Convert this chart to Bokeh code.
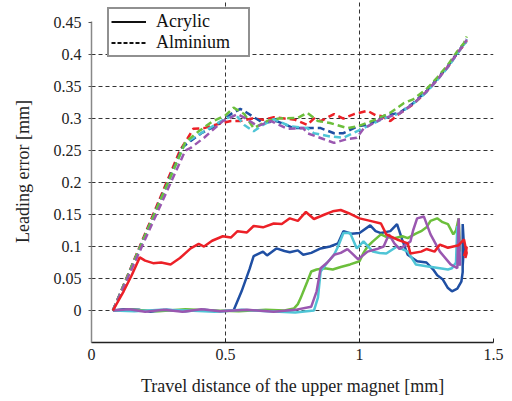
from bokeh.plotting import figure
from bokeh.models import Range1d, FixedTicker, Legend, LegendItem
from bokeh.embed import file_html
from bokeh.resources import INLINE

# ---------------- data ----------------
x_ticks = [0, 0.5, 1.0, 1.5]
y_ticks = [0, 0.05, 0.1, 0.15, 0.2, 0.25, 0.3, 0.35, 0.4, 0.45]
y_tick_labels = ["0", "0.05", "0.1", "0.15", "0.2", "0.25", "0.3", "0.35", "0.4", "0.45"]

# Acrylic (solid)
red_a_x = [0.08, 0.12, 0.15, 0.18, 0.2, 0.23, 0.26, 0.295, 0.33, 0.37, 0.4, 0.42, 0.45, 0.49, 0.52, 0.545, 0.58,
           0.605, 0.64, 0.68, 0.71, 0.74, 0.77, 0.8, 0.83, 0.87, 0.9, 0.93, 0.96, 1.0, 1.04, 1.08, 1.1, 1.14, 1.18,
           1.19, 1.23, 1.25, 1.28, 1.3, 1.33, 1.35, 1.37, 1.39, 1.40, 1.395, 1.40, 1.39]
red_a_y = [0, 0.03, 0.055, 0.083, 0.078, 0.074, 0.075, 0.072, 0.082, 0.097, 0.104, 0.1, 0.109, 0.116, 0.114,
           0.124, 0.122, 0.132, 0.13, 0.136, 0.135, 0.144, 0.14, 0.154, 0.143, 0.15, 0.155, 0.157, 0.152, 0.144,
           0.14, 0.136, 0.119, 0.111, 0.105, 0.089, 0.092, 0.096, 0.092, 0.103, 0.098, 0.1, 0.102, 0.111, 0.09,
           0.082, 0.1, 0.085]

blue_a_x = [0.08, 0.12, 0.18, 0.22, 0.28, 0.35, 0.42, 0.48, 0.53, 0.56, 0.59, 0.605, 0.64, 0.655, 0.69, 0.72,
            0.74, 0.77, 0.79, 0.82, 0.855, 0.89, 0.92, 0.94, 0.97, 1.0, 1.04, 1.06, 1.08, 1.115, 1.14, 1.16, 1.18,
            1.215, 1.25, 1.275, 1.29, 1.31, 1.33, 1.345, 1.365, 1.38, 1.385, 1.385, 1.39, 1.385]
blue_a_y = [0, 0.002, 0.001, -0.002, 0.001, -0.001, 0.001, -0.001, 0.0, 0.03, 0.065, 0.085, 0.092, 0.086, 0.097,
            0.093, 0.091, 0.094, 0.087, 0.09, 0.097, 0.1, 0.105, 0.124, 0.12, 0.121, 0.133, 0.124, 0.121, 0.124,
            0.135, 0.11, 0.087, 0.077, 0.075, 0.064, 0.055, 0.049, 0.035, 0.03, 0.034, 0.045, 0.06, 0.135, 0.1,
            0.07]

green_a_x = [0.08, 0.15, 0.25, 0.35, 0.45, 0.55, 0.65, 0.72, 0.755, 0.77, 0.78, 0.805, 0.82, 0.84, 0.87, 0.9,
             0.93, 0.965, 1.0, 1.015, 1.03, 1.05, 1.08, 1.1, 1.13, 1.16, 1.18, 1.21, 1.23, 1.25, 1.265, 1.29,
             1.31, 1.33, 1.35, 1.36, 1.37, 1.375]
green_a_y = [0, 0.001, -0.001, 0.002, 0.0, -0.001, 0.001, 0.0, 0.003, 0.01, 0.019, 0.045, 0.061, 0.064, 0.066,
             0.064, 0.068, 0.072, 0.077, 0.09, 0.1, 0.108, 0.119, 0.115, 0.113, 0.116, 0.113, 0.12, 0.124, 0.13,
             0.14, 0.144, 0.138, 0.135, 0.119, 0.125, 0.144, 0.092]

cyan_a_x = [0.08, 0.16, 0.26, 0.36, 0.46, 0.56, 0.66, 0.76, 0.83, 0.845, 0.855, 0.88, 0.905, 0.92, 0.94, 0.965,
            0.99, 1.015, 1.05, 1.075, 1.1, 1.14, 1.18, 1.21, 1.25, 1.3, 1.33, 1.345, 1.36, 1.365, 1.37]
cyan_a_y = [0, -0.001, 0.001, 0.0, -0.002, 0.001, -0.001, -0.003, 0.0, 0.02, 0.061, 0.075, 0.087, 0.1, 0.121,
            0.121, 0.097, 0.108, 0.092, 0.09, 0.089, 0.1, 0.092, 0.072, 0.069, 0.066, 0.064, 0.066, 0.075, 0.132,
            0.07]

purple_a_x = [0.08, 0.14, 0.2, 0.27, 0.34, 0.41, 0.48, 0.58, 0.68, 0.76, 0.82, 0.84, 0.855, 0.88, 0.905, 0.93,
              0.955, 0.975, 0.995, 1.03, 1.065, 1.09, 1.11, 1.13, 1.15, 1.19, 1.2, 1.215, 1.24, 1.265, 1.3, 1.34,
              1.365, 1.37, 1.375]
purple_a_y = [0, 0.002, -0.002, 0.001, -0.002, 0.002, -0.001, 0.001, -0.002, 0.001, 0.006, 0.03, 0.066, 0.075,
              0.087, 0.09, 0.096, 0.088, 0.08, 0.092, 0.096, 0.1, 0.119, 0.105, 0.096, 0.108, 0.125, 0.144, 0.147,
              0.119, 0.092, 0.072, 0.066, 0.144, 0.07]

# Alminium (dashed)
tail_x = [1.15, 1.2, 1.25, 1.29, 1.33, 1.365, 1.39, 1.40]

red_b_x = [0.08, 0.33, 0.36, 0.38, 0.42, 0.47, 0.52, 0.555, 0.6, 0.64, 0.68, 0.72, 0.76, 0.805, 0.83, 0.855,
           0.905, 0.94, 0.98, 1.03, 1.06, 1.08, 1.115] + tail_x
red_b_y = [0, 0.25, 0.27, 0.284, 0.285, 0.291, 0.296, 0.296, 0.3, 0.298, 0.302, 0.3, 0.298, 0.29, 0.3, 0.296,
           0.307, 0.3, 0.307, 0.312, 0.305, 0.304, 0.296, 0.308, 0.322, 0.342, 0.361, 0.381, 0.402, 0.415, 0.422]

blue_b_x = [0.08, 0.34, 0.37, 0.41, 0.47, 0.52, 0.555, 0.58, 0.64, 0.69, 0.755, 0.805, 0.855, 0.905, 0.94,
            0.995, 1.04, 1.09] + tail_x
blue_b_y = [0, 0.255, 0.265, 0.277, 0.29, 0.307, 0.315, 0.309, 0.293, 0.296, 0.285, 0.285, 0.285, 0.277,
            0.277, 0.288, 0.291, 0.304, 0.309, 0.324, 0.343, 0.362, 0.382, 0.403, 0.417, 0.424]

green_b_x = [0.08, 0.35, 0.4, 0.45, 0.5, 0.53, 0.57, 0.605, 0.655, 0.7, 0.77, 0.805, 0.845, 0.89, 0.955, 0.995,
             1.04, 1.09, 1.115] + [1.165, 1.2, 1.25, 1.29, 1.33, 1.365, 1.39, 1.40]
green_b_y = [0, 0.263, 0.28, 0.295, 0.305, 0.317, 0.307, 0.285, 0.296, 0.3, 0.301, 0.309, 0.296, 0.293, 0.285,
             0.288, 0.295, 0.304, 0.309, 0.324, 0.33, 0.346, 0.364, 0.384, 0.405, 0.418, 0.428]

cyan_b_x = [0.08, 0.35, 0.42, 0.5, 0.54, 0.57, 0.605, 0.64, 0.68, 0.74, 0.805, 0.83, 0.89, 0.94, 0.99, 1.04,
            1.09] + tail_x
cyan_b_y = [0, 0.262, 0.28, 0.3, 0.305, 0.29, 0.28, 0.29, 0.299, 0.288, 0.285, 0.277, 0.272, 0.27, 0.28, 0.29,
            0.3, 0.308, 0.323, 0.341, 0.36, 0.38, 0.401, 0.416, 0.42]

purple_b_x = [0.08, 0.35, 0.37, 0.42, 0.49, 0.545, 0.58, 0.62, 0.67, 0.73, 0.79, 0.805, 0.865, 0.905, 0.955,
              0.99, 1.015, 1.08] + tail_x
purple_b_y = [0, 0.25, 0.254, 0.27, 0.296, 0.307, 0.299, 0.288, 0.296, 0.284, 0.285, 0.277, 0.268, 0.262,
              0.268, 0.27, 0.284, 0.299, 0.308, 0.323, 0.342, 0.36, 0.381, 0.402, 0.416, 0.423]

legend_labels = ["Acrylic", "Alminium"]

colors = {"red": "#ec2027", "blue": "#1f4fa3", "green": "#6cbf3c", "cyan": "#4fc5d6", "purple": "#9a57b0"}

acrylic = [("blue", blue_a_x, blue_a_y), ("green", green_a_x, green_a_y), ("cyan", cyan_a_x, cyan_a_y),
           ("purple", purple_a_x, purple_a_y), ("red", red_a_x, red_a_y)]
alminium = [("red", red_b_x, red_b_y), ("blue", blue_b_x, blue_b_y), ("cyan", cyan_b_x, cyan_b_y),
            ("green", green_b_x, green_b_y), ("purple", purple_b_x, purple_b_y)]

FONT = "Liberation Serif"

p = figure(frame_width=402, frame_height=342, output_backend="svg", toolbar_location=None,
           x_range=Range1d(0, 1.5), y_range=Range1d(-0.05, 0.4844),
           min_border_left=91, min_border_top=0, min_border_right=14, min_border_bottom=55)
p.outline_line_color = None
p.background_fill_color = "white"

# grid
p.xgrid.ticker = FixedTicker(ticks=[0.5, 1.0])
p.ygrid.ticker = FixedTicker(ticks=y_ticks[:-1])
p.xgrid.bounds = (-0.05, 0.456)
for g in (p.xgrid, p.ygrid):
    g.grid_line_color = "#333333"
    g.grid_line_dash = "4 3"
    g.grid_line_width = 1

# axes
p.xaxis.ticker = FixedTicker(ticks=x_ticks)
p.xaxis.major_label_overrides = {0: "0", 0.5: "0.5", 1.0: "1", 1.5: "1.5"}
p.yaxis.ticker = FixedTicker(ticks=y_ticks)
p.yaxis.bounds = (-0.05, 0.452)
p.yaxis.major_label_overrides = {t: l for t, l in zip(y_ticks, y_tick_labels)}
p.xaxis.axis_label = "Travel distance of the upper magnet [mm]"
p.yaxis.axis_label = "Leading error [mm]"
for ax in (p.xaxis, p.yaxis):
    ax.major_label_text_font = FONT
    ax.major_label_text_font_size = "16px"
    ax.major_label_text_color = "#222222"
    ax.axis_label_text_font = FONT
    ax.axis_label_text_font_size = "18px"
    ax.axis_label_text_font_style = "normal"
    ax.axis_label_text_color = "#222222"
    ax.minor_tick_line_color = None
p.xaxis.axis_line_color = "#222222"
p.xaxis.axis_line_width = 1.5
p.xaxis.major_tick_line_color = "#222222"
p.xaxis.major_tick_in = 4
p.xaxis.major_tick_out = 0
p.xaxis.major_label_standoff = 6
p.xaxis.axis_label_standoff = 13
p.yaxis.axis_line_color = "#888888"
p.yaxis.axis_line_width = 1.5
p.yaxis.major_tick_line_color = "#555555"
p.yaxis.major_tick_in = 0
p.yaxis.major_tick_out = 3
p.yaxis.major_label_standoff = 7
p.yaxis.axis_label_standoff = 18

# lines
for name, xs, ys in alminium:
    p.line(xs, ys, line_color=colors[name], line_width=2.5, line_dash="7 4")
for name, xs, ys in acrylic:
    p.line(xs, ys, line_color=colors[name], line_width=2.5)

# legend proxies (kept outside the visible range)
r_solid = p.line(x=[-1.0, -0.9], y=[-1.0, -1.0], line_color="#111111", line_width=2)
r_dash = p.line(x=[-1.0, -0.9], y=[-1.0, -1.0], line_color="#111111", line_width=2, line_dash="4 2")
legend = Legend(items=[LegendItem(label=legend_labels[0], renderers=[r_solid]),
                       LegendItem(label=legend_labels[1], renderers=[r_dash])],
                location=(16, 285), orientation="vertical")
legend.label_text_font = FONT
legend.label_text_font_size = "18px"
legend.label_text_color = "#111111"
legend.glyph_width = 35
legend.glyph_height = 15
legend.label_height = 15
legend.label_width = 90
legend.label_standoff = 10
legend.padding = 2
legend.spacing = -6
legend.margin = 0
legend.border_line_color = "#222222"
legend.border_line_width = 2
legend.background_fill_alpha = 1
p.add_layout(legend, "center")

open("out.html", "w").write(file_html(p, INLINE))
